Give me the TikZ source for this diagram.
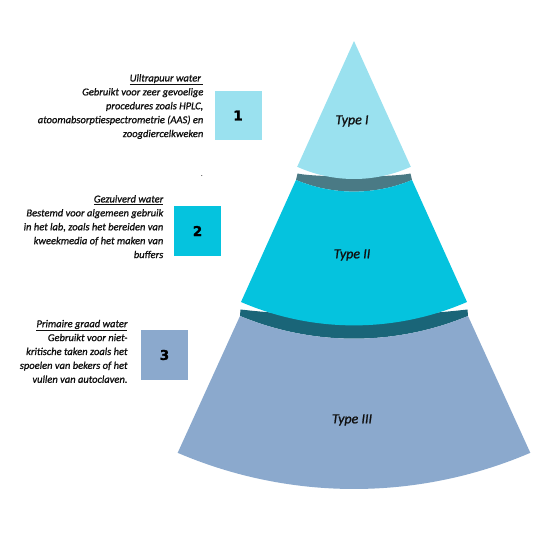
\documentclass[tikz,border=0pt]{standalone}
\usepackage{fontspec}
\setmainfont{Carlito}
\newfontfamily\descfont{Carlito}[ItalicFeatures={FakeBold=1.1}]
\newfontfamily\numfont{DejaVu Sans}[BoldFeatures={FakeBold=1.6}]
\usetikzlibrary{calc}
\definecolor{cA}{HTML}{9AE1EF}
\definecolor{cB}{HTML}{05C3DE}
\definecolor{cC}{HTML}{8BA9CD}
\definecolor{dA}{HTML}{4A7A85}
\definecolor{dB}{HTML}{1A6578}
\definecolor{txt}{HTML}{101010}
\tikzset{
  typelbl/.style={inner sep=0pt, text=txt, font=\descfont\itshape\fontsize{14}{16}\selectfont},
  numbox/.style={inner sep=0pt, minimum width=47pt, minimum height=49.5pt, text=black,
    font=\numfont\bfseries\fontsize{13.5}{15}\selectfont},
  desc/.style={inner sep=0pt, anchor=north east, align=right, text=txt,
    font=\descfont\itshape\fontsize{10.5}{13.9}\selectfont},
}
\begin{document}
\begin{tikzpicture}[x=1pt,y=1pt,yscale=-1]
\useasboundingbox (0,0) rectangle (544,544);
\coordinate (A) at (354,41);
% dark bands
\fill[dB] (240.5,309.5) .. controls (316,318) and (392,318) .. (467.5,309.5)
  -- ($(A)+(67.48:297.7)$) arc[start angle=67.48, end angle=112.52, radius=297.7pt] -- cycle;
\fill[dA] (297.5,173.5) .. controls (316,177.5) and (392,177.5) .. (410.5,173.5)
  -- ($(A)+(67.35:150.6)$) arc[start angle=67.35, end angle=112.65, radius=150.6pt] -- cycle;
% Type III
\fill[cC] ($(A)+(112.52:297.7)$) arc[start angle=112.52, end angle=67.48, radius=297.7pt]
  -- ($(A)+(66.82:448)$) arc[start angle=66.82, end angle=113.18, radius=448pt] -- cycle;
% Type II
\fill[cB] ($(A)+(112.65:150.6)$) arc[start angle=112.65, end angle=67.35, radius=150.6pt]
  -- ($(A)+(66.59:284.4)$) arc[start angle=66.59, end angle=113.41, radius=284.4pt] -- cycle;
% Type I
\fill[cA] (A) -- ($(A)+(114.3:138)$) arc[start angle=114.3, end angle=65.7, radius=138pt] -- cycle;
% labels
\node[typelbl] (t1) at (352,121) {Type I};
\node[typelbl] (t2) at (352,255) {Type II};
\node[typelbl] (t3) at (352,420) {Type III};
% boxes
\node[numbox, fill=cA] (b1) at (238,115.5) {1};
\node[numbox, fill=cB] (b2) at (197.5,231) {2};
\node[numbox, fill=cC] (b3) at (164.5,355) {3};
% descriptions
\node[desc] (d1) at (203.5,74) {\underline{Ulltrapuur water\ }\\Gebruikt voor zeer gevoelige\\procedures zoals HPLC,\\atoomabsorptiespectrometrie (AAS) en\\zoogdiercelkweken};
\node[desc] (d2) at (163.5,195) {\underline{Gezuiverd water}\\Bestemd voor algemeen gebruik\\in het lab, zoals het bereiden van\\kweekmedia of het maken van\\buffers};
\node[desc] (d3) at (127.7,319.7) {\underline{Primaire graad water}\\Gebruikt voor niet-\\kritische taken zoals het\\spoelen van bekers of het\\vullen van autoclaven.};
\node[inner sep=0pt, text=txt, font=\fontsize{8}{9}\selectfont] (dot) at (202,176) {.};
\end{tikzpicture}
\end{document}
